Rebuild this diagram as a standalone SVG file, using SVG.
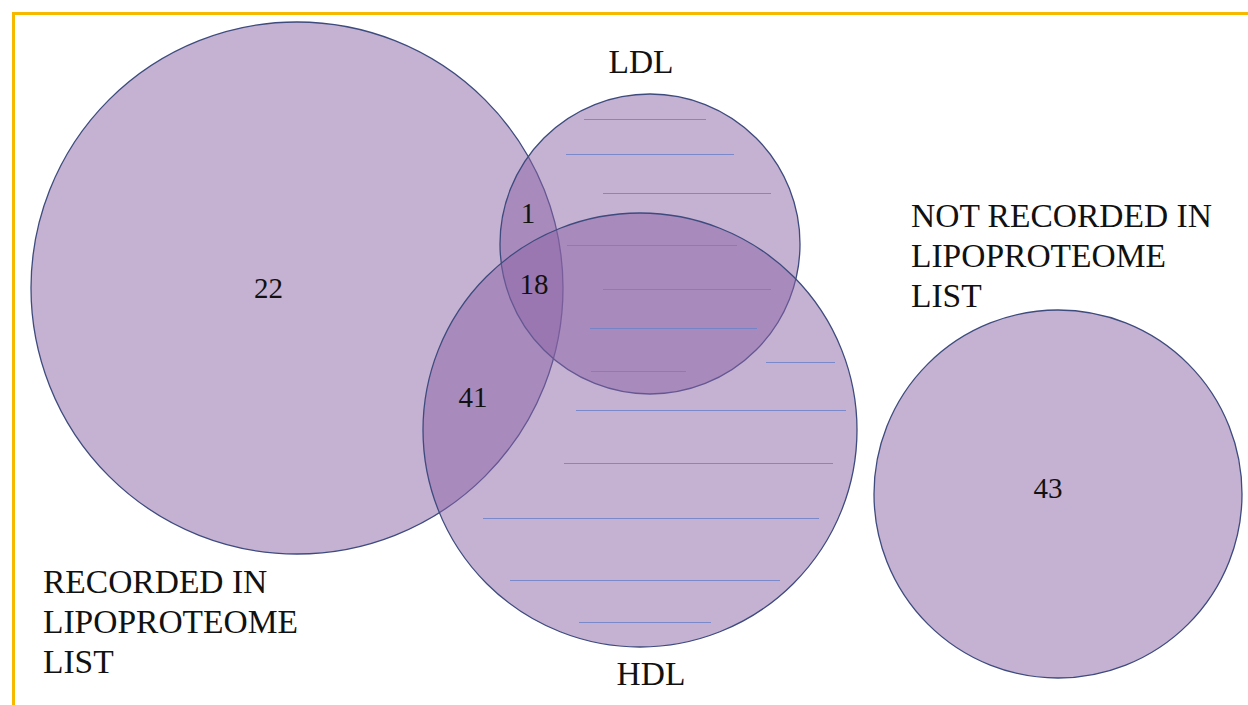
<svg xmlns="http://www.w3.org/2000/svg" width="1248" height="705" viewBox="0 0 1248 705">
<style>
.set{fill:rgb(140,100,165);fill-opacity:0.5;stroke:#3d4b7e;stroke-width:1.3}
.hatch line{stroke:#6b82c9;stroke-width:1.2;stroke-opacity:0.85}
.lbl{font-size:33.5px;fill:#111}
.num{font-size:29px;fill:#111;text-anchor:middle}
.frame{stroke:#f6b900;stroke-width:3;fill:none}
</style>
<rect width="1248" height="705" fill="#ffffff"/>
<path class="frame" d="M13.5,705 V13.5 H1248"/>
<g id="recorded">
<circle class="set" cx="297" cy="288" r="266"/>
</g>
<g id="ldl">
<circle class="set" cx="650" cy="244" r="150"/>
</g>
<g id="hdl">
<circle class="set" cx="640" cy="430" r="217"/>
</g>
<g id="not-recorded">
<circle class="set" cx="1058" cy="494" r="184"/>
</g>
<g id="hatching" class="hatch">
<line x1="584" y1="119.5" x2="706" y2="119.5"/>
<line x1="566" y1="154.5" x2="734" y2="154.5"/>
<line x1="603" y1="193.5" x2="771" y2="193.5"/>
<line x1="567" y1="245.5" x2="737" y2="245.5"/>
<line x1="603" y1="289.5" x2="771" y2="289.5"/>
<line x1="590" y1="328.5" x2="757" y2="328.5"/>
<line x1="766" y1="362.5" x2="835" y2="362.5"/>
<line x1="591" y1="371.5" x2="686" y2="371.5"/>
<line x1="576" y1="410.5" x2="846" y2="410.5"/>
<line x1="564" y1="463.5" x2="833" y2="463.5"/>
<line x1="483" y1="518.5" x2="819" y2="518.5"/>
<line x1="510" y1="580.5" x2="780" y2="580.5"/>
<line x1="579" y1="622.5" x2="711" y2="622.5"/>
</g>
<g id="labels" font-family="'Liberation Serif', 'Times New Roman', 'DejaVu Serif', serif">
<text class="lbl" x="641" y="73" text-anchor="middle">LDL</text>
<text class="lbl" x="651" y="685" text-anchor="middle">HDL</text>
<text class="lbl" x="43" y="593">RECORDED IN</text>
<text class="lbl" x="43" y="633">LIPOPROTEOME</text>
<text class="lbl" x="43" y="673">LIST</text>
<text class="lbl" x="911" y="227">NOT RECORDED IN</text>
<text class="lbl" x="911" y="267">LIPOPROTEOME</text>
<text class="lbl" x="911" y="307">LIST</text>
<text class="num" x="268.5" y="298">22</text>
<text class="num" x="528" y="223">1</text>
<text class="num" x="534" y="294">18</text>
<text class="num" x="473" y="407">41</text>
<text class="num" x="1048" y="498">43</text>
</g>
</svg>
